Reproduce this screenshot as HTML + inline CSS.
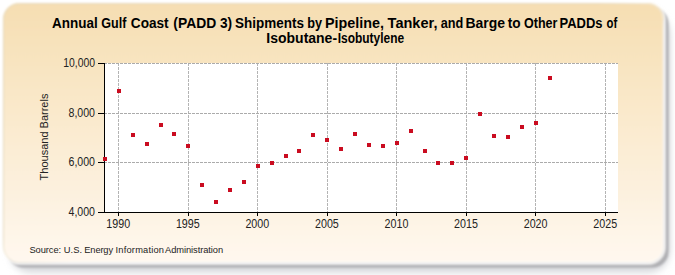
<!DOCTYPE html>
<html><head><meta charset="utf-8"><style>
html,body{margin:0;padding:0;background:#fff;width:675px;height:275px;overflow:hidden}
svg{display:block}
text{font-family:"Liberation Sans",sans-serif}
</style></head><body>
<svg width="675" height="275" viewBox="0 0 675 275">
<defs>
<linearGradient id="bg" x1="0" y1="0" x2="0" y2="1"><stop offset="0" stop-color="#F6DEB2"/><stop offset="1" stop-color="#FFF8EF"/></linearGradient>
<linearGradient id="st" x1="0" y1="0" x2="1" y2="1"><stop offset="0" stop-color="#e4d8bc"/><stop offset="0.45" stop-color="#e4d8bc"/><stop offset="0.55" stop-color="#fff"/><stop offset="1" stop-color="#fff"/></linearGradient>
<filter id="sh" x="-5%" y="-5%" width="115%" height="120%"><feGaussianBlur stdDeviation="3 4"/></filter>
<filter id="pb" x="-2%" y="-2%" width="104%" height="104%"><feGaussianBlur stdDeviation="1.0"/></filter>
<filter id="sh2" x="-5%" y="-5%" width="115%" height="120%"><feGaussianBlur stdDeviation="1.3"/></filter>
<filter id="r" x="-5%" y="-5%" width="115%" height="120%"><feGaussianBlur stdDeviation="1"/></filter>
</defs>
<rect x="9" y="12" width="661" height="260" rx="22" fill="rgb(208,210,215)" filter="url(#sh)"/>
<rect x="7.5" y="7.5" width="661" height="260" rx="16" fill="rgb(175,175,178)" filter="url(#sh2)"/>
<rect x="3" y="3" width="661" height="260" rx="16" fill="none" stroke="#fff" stroke-opacity="0.7" stroke-width="4" filter="url(#r)"/>
<g filter="url(#pb)"><rect x="3" y="3" width="661" height="260" rx="16" fill="url(#bg)"/>
<rect x="3.5" y="3.5" width="660" height="259" rx="16" fill="none" stroke="url(#st)" stroke-width="1"/></g>
<text x="52.00" y="27.7" font-size="14.3" font-weight="bold" fill="#000" textLength="45.73" lengthAdjust="spacingAndGlyphs">Annual</text><text x="101.30" y="27.7" font-size="14.3" font-weight="bold" fill="#000" textLength="25.14" lengthAdjust="spacingAndGlyphs">Gulf</text><text x="130.80" y="27.7" font-size="14.3" font-weight="bold" fill="#000" textLength="37.85" lengthAdjust="spacingAndGlyphs">Coast</text><text x="173.30" y="27.7" font-size="14.3" font-weight="bold" fill="#000" textLength="42.91" lengthAdjust="spacingAndGlyphs">(PADD</text><text x="219.90" y="27.7" font-size="14.3" font-weight="bold" fill="#000" textLength="12.19" lengthAdjust="spacingAndGlyphs">3)</text><text x="235.00" y="27.7" font-size="14.3" font-weight="bold" fill="#000" textLength="68.89" lengthAdjust="spacingAndGlyphs">Shipments</text><text x="307.31" y="27.7" font-size="14.3" font-weight="bold" fill="#000" textLength="14.81" lengthAdjust="spacingAndGlyphs">by</text><text x="325.00" y="27.7" font-size="14.3" font-weight="bold" fill="#000" textLength="59.00" lengthAdjust="spacingAndGlyphs">Pipeline,</text><text x="387.60" y="27.7" font-size="14.3" font-weight="bold" fill="#000" textLength="49.83" lengthAdjust="spacingAndGlyphs">Tanker,</text><text x="440.70" y="27.7" font-size="14.3" font-weight="bold" fill="#000" textLength="22.57" lengthAdjust="spacingAndGlyphs">and</text><text x="465.42" y="27.7" font-size="14.3" font-weight="bold" fill="#000" textLength="39.60" lengthAdjust="spacingAndGlyphs">Barge</text><text x="507.80" y="27.7" font-size="14.3" font-weight="bold" fill="#000" textLength="12.88" lengthAdjust="spacingAndGlyphs">to</text><text x="524.00" y="27.7" font-size="14.3" font-weight="bold" fill="#000" textLength="33.42" lengthAdjust="spacingAndGlyphs">Other</text><text x="559.49" y="27.7" font-size="14.3" font-weight="bold" fill="#000" textLength="42.97" lengthAdjust="spacingAndGlyphs">PADDs</text><text x="606.60" y="27.7" font-size="14.3" font-weight="bold" fill="#000" textLength="10.70" lengthAdjust="spacingAndGlyphs">of</text>
<text x="266.32" y="42.8" font-size="14.3" font-weight="bold" fill="#000" textLength="70.75" lengthAdjust="spacingAndGlyphs">Isobutane-</text><text x="337.76" y="42.8" font-size="14.3" font-weight="bold" fill="#000" textLength="66.41" lengthAdjust="spacingAndGlyphs">Isobutylene</text>
<rect x="105" y="63" width="513" height="149" fill="#fff"/>
<g stroke-width="1" stroke-dasharray="3 1"><g stroke="#b4b4b4"><line x1="118.5" y1="63" x2="118.5" y2="212"/><line x1="188.5" y1="63" x2="188.5" y2="212"/><line x1="257.5" y1="63" x2="257.5" y2="212"/><line x1="327.5" y1="63" x2="327.5" y2="212"/><line x1="396.5" y1="63" x2="396.5" y2="212"/><line x1="466.5" y1="63" x2="466.5" y2="212"/><line x1="535.5" y1="63" x2="535.5" y2="212"/><line x1="605.5" y1="63" x2="605.5" y2="212"/></g><g stroke="#ababab"><line x1="104" y1="63.5" x2="618" y2="63.5"/><line x1="104" y1="113.5" x2="618" y2="113.5"/><line x1="104" y1="162.5" x2="618" y2="162.5"/></g></g>
<g stroke="#000" stroke-width="1"><line x1="118.5" y1="212" x2="118.5" y2="216"/><line x1="188.5" y1="212" x2="188.5" y2="216"/><line x1="257.5" y1="212" x2="257.5" y2="216"/><line x1="327.5" y1="212" x2="327.5" y2="216"/><line x1="396.5" y1="212" x2="396.5" y2="216"/><line x1="466.5" y1="212" x2="466.5" y2="216"/><line x1="535.5" y1="212" x2="535.5" y2="216"/><line x1="605.5" y1="212" x2="605.5" y2="216"/><line x1="98" y1="63.5" x2="105" y2="63.5"/><line x1="98" y1="113.5" x2="105" y2="113.5"/><line x1="98" y1="162.5" x2="105" y2="162.5"/><line x1="98" y1="212.5" x2="105" y2="212.5"/><line x1="104.5" y1="63" x2="104.5" y2="213"/><line x1="104" y1="212.5" x2="618" y2="212.5"/></g>
<g font-size="12" fill="#222"><text x="106.3" y="227.8" textLength="23.8" lengthAdjust="spacingAndGlyphs">1990</text><text x="175.9" y="227.8" textLength="23.8" lengthAdjust="spacingAndGlyphs">1995</text><text x="245.4" y="227.8" textLength="23.8" lengthAdjust="spacingAndGlyphs">2000</text><text x="315.0" y="227.8" textLength="23.8" lengthAdjust="spacingAndGlyphs">2005</text><text x="384.6" y="227.8" textLength="23.8" lengthAdjust="spacingAndGlyphs">2010</text><text x="454.1" y="227.8" textLength="23.8" lengthAdjust="spacingAndGlyphs">2015</text><text x="523.7" y="227.8" textLength="23.8" lengthAdjust="spacingAndGlyphs">2020</text><text x="593.3" y="227.8" textLength="23.8" lengthAdjust="spacingAndGlyphs">2025</text><text x="63.2" y="67.2" textLength="31.80" lengthAdjust="spacingAndGlyphs">10,000</text><text x="68.5" y="117.2" textLength="26.50" lengthAdjust="spacingAndGlyphs">8,000</text><text x="68.5" y="166.2" textLength="26.50" lengthAdjust="spacingAndGlyphs">6,000</text><text x="68.5" y="216.2" textLength="26.50" lengthAdjust="spacingAndGlyphs">4,000</text></g>
<text transform="translate(48 137) rotate(-90)" text-anchor="middle" font-size="11" fill="#222">Thousand Barrels</text>
<text x="29.40" y="253.3" font-size="9.3" font-weight="normal" fill="#222" textLength="31.70" lengthAdjust="spacing">Source:</text><text x="63.80" y="253.3" font-size="9.3" font-weight="normal" fill="#222" textLength="18.23" lengthAdjust="spacing">U.S.</text><text x="84.30" y="253.3" font-size="9.3" font-weight="normal" fill="#222" textLength="28.75" lengthAdjust="spacing">Energy</text><text x="115.60" y="253.3" font-size="9.3" font-weight="normal" fill="#222" textLength="48.39" lengthAdjust="spacing">Information</text><text x="165.00" y="253.3" font-size="9.3" font-weight="normal" fill="#222" textLength="58.15" lengthAdjust="spacing">Administration</text>
<g fill="#CA0C20"><rect x="103" y="157" width="4" height="4"/><rect x="117" y="89" width="4" height="4"/><rect x="131" y="133" width="4" height="4"/><rect x="145" y="142" width="4" height="4"/><rect x="159" y="123" width="4" height="4"/><rect x="172" y="132" width="4" height="4"/><rect x="186" y="144" width="4" height="4"/><rect x="200" y="183" width="4" height="4"/><rect x="214" y="200" width="4" height="4"/><rect x="228" y="188" width="4" height="4"/><rect x="242" y="180" width="4" height="4"/><rect x="256" y="164" width="4" height="4"/><rect x="270" y="161" width="4" height="4"/><rect x="284" y="154" width="4" height="4"/><rect x="297" y="149" width="4" height="4"/><rect x="311" y="133" width="4" height="4"/><rect x="325" y="138" width="4" height="4"/><rect x="339" y="147" width="4" height="4"/><rect x="353" y="132" width="4" height="4"/><rect x="367" y="143" width="4" height="4"/><rect x="381" y="144" width="4" height="4"/><rect x="395" y="141" width="4" height="4"/><rect x="409" y="129" width="4" height="4"/><rect x="423" y="149" width="4" height="4"/><rect x="436" y="161" width="4" height="4"/><rect x="450" y="161" width="4" height="4"/><rect x="464" y="156" width="4" height="4"/><rect x="478" y="112" width="4" height="4"/><rect x="492" y="134" width="4" height="4"/><rect x="506" y="135" width="4" height="4"/><rect x="520" y="125" width="4" height="4"/><rect x="534" y="121" width="4" height="4"/><rect x="548" y="76" width="4" height="4"/></g>
</svg>
</body></html>
